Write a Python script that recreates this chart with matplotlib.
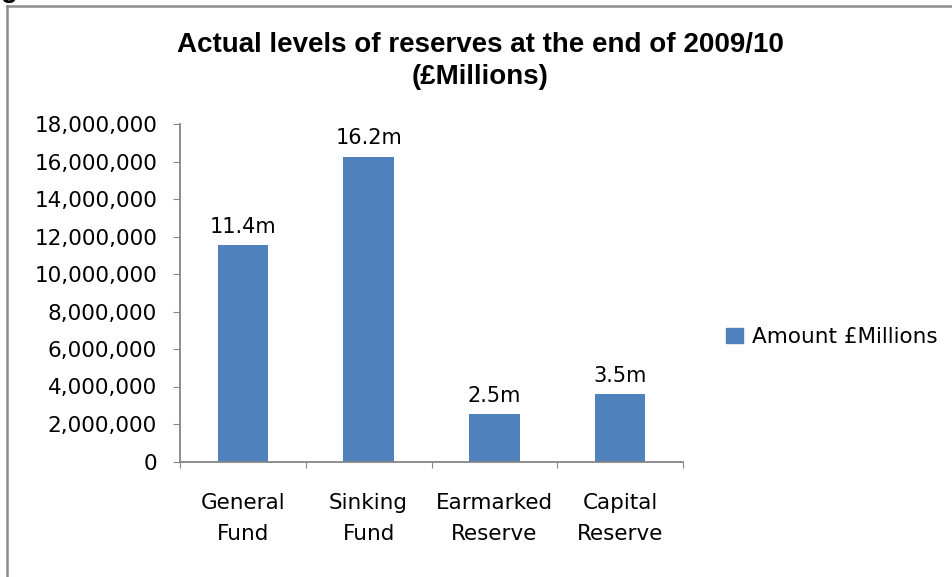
import numpy as np
import matplotlib
matplotlib.use('Agg')
import matplotlib.pyplot as plt
from matplotlib.lines import Line2D
from matplotlib.patches import Patch
from matplotlib.ticker import FuncFormatter

#data
categories = ['General\nFund', 'Sinking\nFund', 'Earmarked\nReserve', 'Capital\nReserve']
amounts = [11550000, 16250000, 2530000, 3600000]
bar_labels = ['11.4m', '16.2m', '2.5m', '3.5m']
series_name = 'Amount £Millions'
title_lines = ['Actual levels of reserves at the end of 2009/10', '(£Millions)']

bar_color = '#4f81bd'
axis_color = '#868686'
label_font = 'DejaVu Sans'
fs = 15.5

fig = plt.figure(figsize=(9.52, 5.77), dpi=100)
ax = fig.add_axes([180/952, 1 - 461.5/577, (683-180)/952, (461.5-124)/577])

x = np.arange(len(categories))
bars = ax.bar(x, amounts, width=0.4, color=bar_color, zorder=2)

#value labels on top of bars
for b, lab in zip(bars, bar_labels):
    ax.annotate(lab, (b.get_x() + b.get_width()/2, b.get_height()),
                xytext=(0, 6), textcoords='offset points',
                ha='center', va='bottom', fontsize=15, family=label_font)

ax.set_xlim(-0.5, len(categories) - 0.5)
ax.set_ylim(0, 18000000)
ax.set_yticks(np.arange(0, 18000001, 2000000))
ax.yaxis.set_major_formatter(FuncFormatter(lambda v, p: f'{int(v):,}'))

#x ticks at category boundaries, labels at centers
ax.set_xticks(np.arange(-0.5, len(categories)), minor=False)
ax.set_xticklabels([])
ax.set_xticks(x, minor=True)
ax.set_xticklabels(categories, minor=True, fontsize=fs, family=label_font,
                   linespacing=1.68)
ax.tick_params(axis='x', which='minor', length=0, pad=23)
ax.tick_params(axis='x', which='major', length=4.5, color=axis_color, direction='out')
ax.tick_params(axis='y', length=5, color=axis_color, direction='out', pad=11.5,
               labelsize=fs)
for t in ax.get_yticklabels():
    t.set_family(label_font)

for s in ['top', 'right']:
    ax.spines[s].set_visible(False)
for s in ['left', 'bottom']:
    ax.spines[s].set_color(axis_color)
    ax.spines[s].set_linewidth(1.3)

#title, two lines
fig.text(480/952, 1 - 52/577, title_lines[0], ha='center', va='baseline',
         fontsize=20, fontweight='bold', family='Liberation Sans')
fig.text(480/952, 1 - 84/577, title_lines[1], ha='center', va='baseline',
         fontsize=20, fontweight='bold', family='Liberation Sans')

#legend
fig.legend(handles=[Patch(color=bar_color, label=series_name)],
           loc='center left', bbox_to_anchor=(707/952, 1 - 337/577),
           frameon=False, prop={'family': label_font, 'size': fs},
           handlelength=0.75, handleheight=0.75, handletextpad=0.45)

#outer frame of the chart area
fig.add_artist(Line2D([7/952, 7/952], [0, 1 - 6/577], transform=fig.transFigure,
                      color='#8c8c8c', linewidth=1.8))
fig.add_artist(Line2D([7/952, 1], [1 - 6/577, 1 - 6/577], transform=fig.transFigure,
                      color='#8c8c8c', linewidth=1.8))
fig.text(0.001, 1 + 3/577, 'g', fontsize=20, fontweight='bold',
         family='Liberation Sans', va='baseline')

fig.savefig('out.png', dpi=100, facecolor='white')
